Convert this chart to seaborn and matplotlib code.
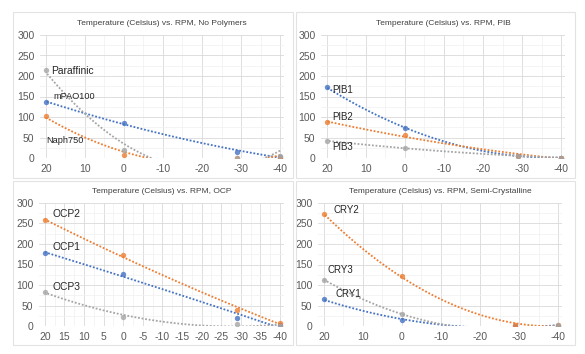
import numpy as np
import matplotlib
matplotlib.use("Agg")
import matplotlib.pyplot as plt
from matplotlib.patches import Rectangle
from matplotlib.ticker import MultipleLocator
import seaborn as sns

plt.rcParams["font.family"] = ["Liberation Sans", "DejaVu Sans"]
plt.rcParams["axes.unicode_minus"] = False

# --- data ---
temps = [20, 0, -29, -40]

# No Polymers
mpao100 = [137, 85, 15, 3]
naph750 = [102, 7, 0, 0]
paraffinic = [215, 20, 0, 5]

# PIB
pib1 = [172, 74, 5, 1]
pib2 = [88, 55, 5, 1]
pib3 = [42, 24, 5, 1]

# OCP
ocp1 = [177, 128, 19, 2]
ocp2 = [258, 172, 40, 8]
ocp3 = [83, 23, 5, 0]

# Semi-Crystalline
cry1 = [65, 14, 0, 0]
cry2 = [272, 122, 2, 2]
cry3 = [113, 29, np.nan, 2]

titles = [
    "Temperature (Celsius) vs. RPM, No Polymers",
    "Temperature (Celsius) vs. RPM, PIB",
    "Temperature (Celsius) vs. RPM, OCP",
    "Temperature (Celsius) vs. RPM, Semi-Crystalline",
]
panels = [
    [("mPAO100", mpao100), ("Naph750", naph750), ("Paraffinic", paraffinic)],
    [("PIB1", pib1), ("PIB2", pib2), ("PIB3", pib3)],
    [("OCP1", ocp1), ("OCP2", ocp2), ("OCP3", ocp3)],
    [("CRY1", cry1), ("CRY2", cry2), ("CRY3", cry3)],
]

# label anchor positions (data coords) and font sizes
label_pos = {
    "Paraffinic": (18.6, 212), "mPAO100": (18.0, 150), "Naph750": (20.0, 42),
    "PIB1": (18.5, 165), "PIB2": (18.5, 100), "PIB3": (18.5, 28),
    "OCP2": (18.0, 272), "OCP1": (18.0, 193), "OCP3": (18.0, 96),
    "CRY2": (17.5, 284), "CRY3": (19.0, 137), "CRY1": (17.0, 77),
}
label_size = {"Paraffinic": 7.4, "mPAO100": 6.6, "Naph750": 6.6,
              "OCP1": 7.4, "OCP2": 7.4, "OCP3": 7.4}
x_step = [10, 10, 5, 10]
colors = ["#4472C4", "#ED7D31", "#A5A5A5"]

fig = plt.figure(figsize=(5.85, 3.54), dpi=100)
W, H = 585, 354

# Excel-like chart area boxes
for (x0, y0, x1, y1) in [(13, 12, 293, 178), (296, 12, 575, 178),
                         (13, 181, 293, 345), (296, 181, 575, 345)]:
    fig.patches.append(Rectangle((x0 / W, 1 - y1 / H), (x1 - x0) / W, (y1 - y0) / H,
                                 transform=fig.transFigure, fill=False,
                                 edgecolor="#E3E3E3", lw=0.8))

# plot area rectangles in pixels: left, top(y=300), width, height
areas = [(40, 35, 244, 123), (321, 35, 244, 123),
         (39, 203, 245, 123), (318, 203, 244, 123)]

for i, (l, t, w, h) in enumerate(areas):
    ax = fig.add_axes([l / W, 1 - (t + h) / H, w / W, h / H])
    for j, (name, vals) in enumerate(panels[i]):
        sns.regplot(x=temps, y=vals, order=2, ci=None, ax=ax, color=colors[j],
                    truncate=True,
                    scatter_kws=dict(s=15, linewidths=0, zorder=3),
                    line_kws=dict(ls=(0, (1, 1)), lw=1.3, zorder=2))
        lx, ly = label_pos[name]
        ax.text(lx, ly, name, fontsize=label_size.get(name, 7), color="#262626",
                ha="left", va="center")
    ax.set_xlim(21.5, -41)
    ax.set_ylim(0, 300)
    ax.xaxis.set_major_locator(MultipleLocator(x_step[i]))
    ax.xaxis.set_minor_locator(MultipleLocator(x_step[i] / 2))
    ax.yaxis.set_major_locator(MultipleLocator(50))
    ax.yaxis.set_minor_locator(MultipleLocator(25))
    ax.grid(which="major", color="#D9D9D9", lw=0.6)
    ax.grid(which="minor", color="#F0F0F0", lw=0.5)
    ax.set_axisbelow(True)
    for s in ax.spines.values():
        s.set_visible(False)
    ax.tick_params(which="both", length=0, labelsize=7.5, colors="#595959", pad=4)
    ax.set_xlabel("")
    ax.set_ylabel("")
    ax.set_title(titles[i], fontsize=6, color="#404040", pad=7)

fig.savefig("out.png", dpi=100, facecolor="white")
